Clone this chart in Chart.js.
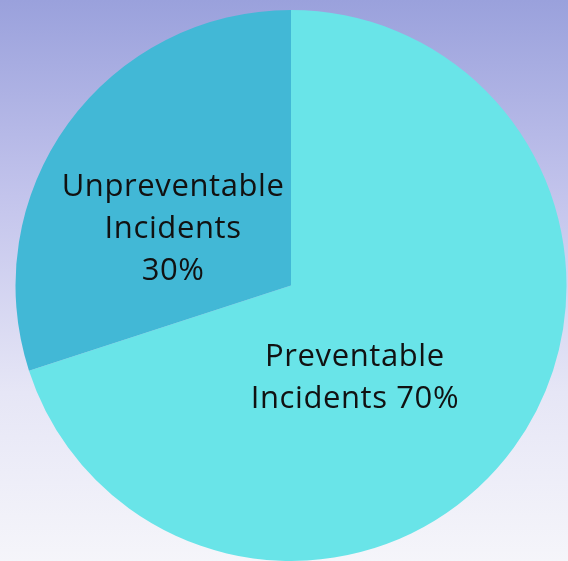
<!DOCTYPE html>
<html>
<head>
  <title>Incidents</title>
  <script src="https://cdn.jsdelivr.net/npm/chart.js@4.4.0/dist/chart.umd.min.js"></script>
  <style>
    html, body {
      margin: 0;
      padding: 0;
    }
    body {
      width: 568px;
      height: 561px;
      background: linear-gradient(to bottom, #9aa1dc 0%, #c3c4ec 35%, #e6e6f6 70%, #f5f5fa 100%);
    }
    #wrap {
      width: 568px;
      height: 561px;
    }
  </style>
</head>
<body>
  <div id="wrap"><canvas id="pieChart"></canvas></div>

  <script>
    // Datos del gráfico
    const categories = ['Preventable Incidents', 'Unpreventable Incidents'];
    const values = [70, 30];
    const sliceColors = ['#69e4e8', '#42b8d6'];
    // texto de cada etiqueta, una línea por elemento
    const labelLines = [
      ['Preventable', 'Incidents 70%'],
      ['Unpreventable', 'Incidents', '30%']
    ];
    // posición de la etiqueta relativa al centro (fracción del radio)
    const labelOffsets = [[0.232, 0.337], [-0.428, -0.203]];

    const sliceLabels = {
      id: 'sliceLabels',
      afterDatasetsDraw(chart) {
        const ctx = chart.ctx;
        const arcs = chart.getDatasetMeta(0).data;
        ctx.save();
        ctx.font = '31px "Open Sans"';
        ctx.letterSpacing = '0.6px';
        ctx.fillStyle = '#111';
        ctx.textAlign = 'center';
        ctx.textBaseline = 'middle';
        arcs.forEach(function(arc, i) {
          const r = arc.outerRadius;
          const cx = arc.x + labelOffsets[i][0] * r;
          const cy = arc.y + labelOffsets[i][1] * r;
          const lines = labelLines[i];
          const lh = 42;
          lines.forEach(function(t, j) {
            ctx.fillText(t, cx, cy + (j - (lines.length - 1) / 2) * lh);
          });
        });
        ctx.restore();
      }
    };

    new Chart(document.getElementById('pieChart'), {
      type: 'pie',
      data: {
        labels: categories,
        datasets: [{
          data: values,
          backgroundColor: sliceColors,
          borderWidth: 0
        }]
      },
      options: {
        responsive: true,
        maintainAspectRatio: false,
        animation: false,
        layout: { padding: { left: 15, right: 1, top: 10, bottom: 0 } },
        plugins: {
          legend: { display: false },
          tooltip: { enabled: false }
        }
      },
      plugins: [sliceLabels]
    });
  </script>
</body>
</html>
